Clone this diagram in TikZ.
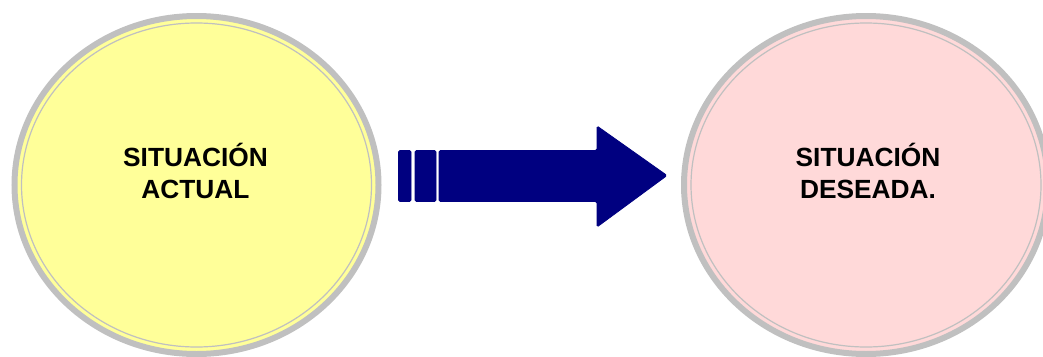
\documentclass[tikz,border=0pt]{standalone}
\usepackage{fontspec}
\setmainfont{Liberation Sans}
\usetikzlibrary{shapes.geometric}
\definecolor{yel}{HTML}{FFFF99}
\definecolor{pnk}{HTML}{FFD9D9}
\definecolor{ring}{HTML}{C0C0C0}
\definecolor{navy}{HTML}{000080}
\tikzset{
  situ/.style={ellipse, draw=ring, line width=6pt, minimum width=364pt, minimum height=338pt, inner sep=0pt},
  inring/.style={ellipse, draw=ring, line width=1.2pt, minimum width=350pt, minimum height=324pt, inner sep=0pt},
  lbl/.style={font=\fontsize{26.3}{31.8}\selectfont\bfseries, align=center},
  arr/.style={fill=navy, draw=navy, line width=0.8pt, rounded corners=1.5pt}
}
\begin{document}
\begin{tikzpicture}[x=1pt,y=-1pt]
\useasboundingbox (0,0) rectangle (1043,356);
\clip (0,0) rectangle (1043,356);
\node[situ, fill=yel] (a) at (196.5,185) {};
\node[inring] (ai) at (a.center) {};
\node[lbl] (at) at (195.5,171) {SITUACIÓN\\ACTUAL};
\node[situ, fill=pnk] (b) at (866,185) {};
\node[inring] (bi) at (b.center) {};
\node[lbl] (bt) at (868,171) {SITUACIÓN\\DESEADA.};
\draw[arr] (398.5,150.5) rectangle (411,201.5);
\draw[arr] (415,150.5) rectangle (436,201.5);
\draw[arr] (439,150.5) -- (597,150.5) -- (597,126) -- (667,175.5) -- (597,227) -- (597,201.5) -- (439,201.5) -- cycle;
\end{tikzpicture}
\end{document}
